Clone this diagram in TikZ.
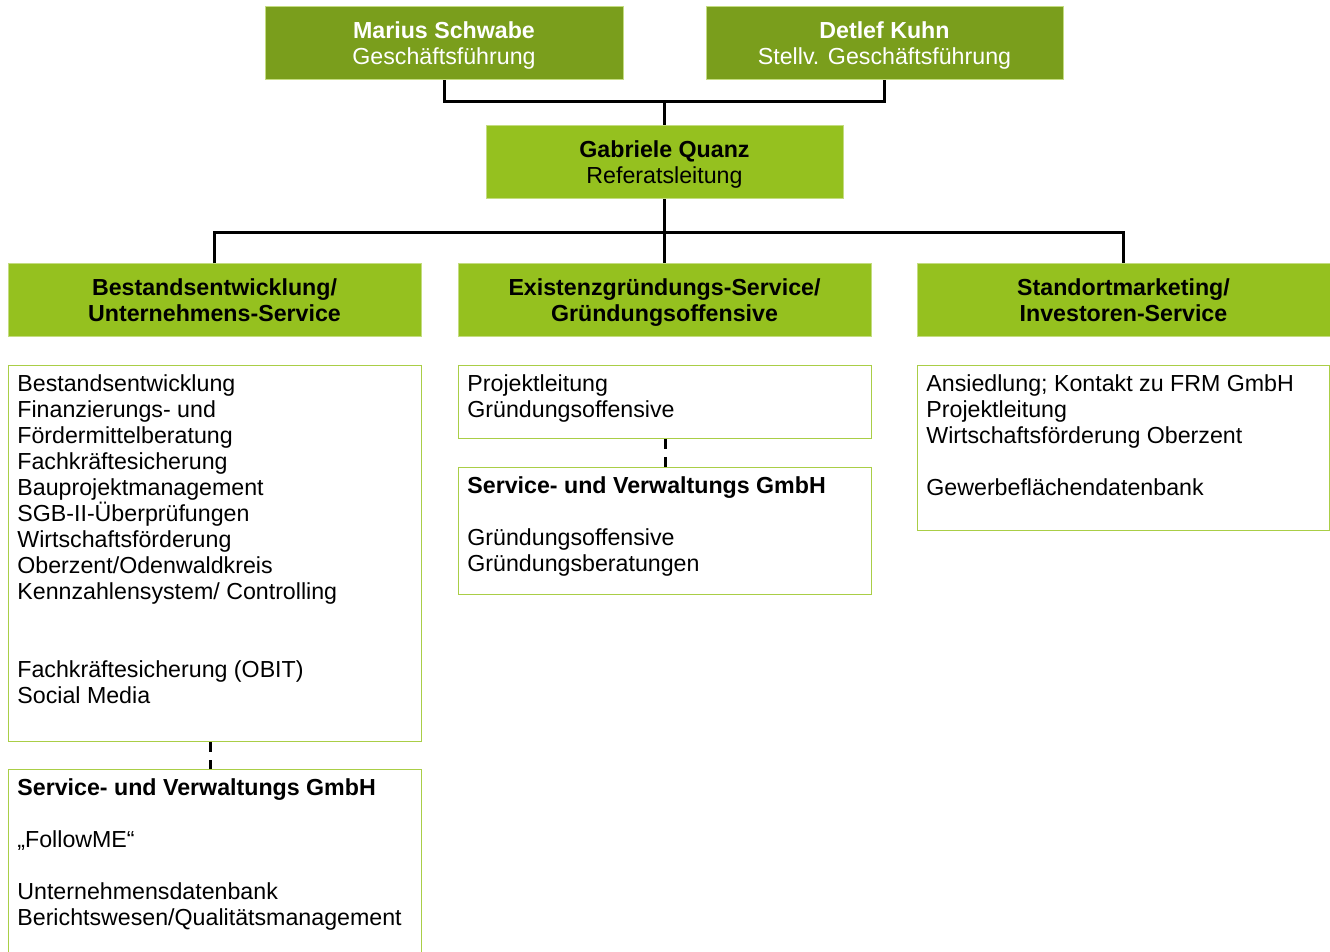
\documentclass[tikz,border=0pt]{standalone}
\usepackage{fontspec}
\setmainfont{Liberation Sans}
\usepackage{tikz}

\definecolor{topgreen}{RGB}{122,158,28}
\definecolor{deptgreen}{RGB}{149,193,31}
\definecolor{edgegreen}{RGB}{196,220,128}
\definecolor{boxline}{RGB}{170,206,70}

\begin{document}
\begin{tikzpicture}[x=0.5pt,y=-0.5pt]
	\tikzstyle{every node}+=[inner sep=0pt, font=\fontsize{11.6}{13}\selectfont]
	\tikzstyle{headbox}=[rectangle, draw=edgegreen, line width=0.5pt, minimum width=179pt, minimum height=36.5pt, align=center, text depth=0pt]
	\tikzstyle{topbox}=[headbox, fill=topgreen, text=white]
	\tikzstyle{leadbox}=[headbox, fill=deptgreen, text=black]
	\tikzstyle{deptbox}=[headbox, fill=deptgreen, minimum width=206.5pt, font=\fontsize{11.6}{13}\selectfont\bfseries]
	\tikzstyle{listbox}=[rectangle, draw=boxline, line width=0.5pt, minimum width=206.5pt, anchor=north west]
	\tikzstyle{listtext}=[anchor=north west, align=left]
	\tikzstyle{link}=[black, line width=1.5pt]
	\tikzstyle{sublink}=[link, dash pattern=on 5pt off 4pt]
	\useasboundingbox (0,0) rectangle (1330,952);
	\clip (0,0) rectangle (1330,952);
	% leitung
	\node [topbox] (marius) at (444,43.5) {\textbf{Marius Schwabe}\\Geschäftsführung};
	\node [topbox, minimum width=178.5pt] (detlef) at (884.5,43.5) {\textbf{Detlef Kuhn}\\Stellv. Geschäftsführung};
	\node [leadbox, minimum width=178.5pt] (gabriele) at (664.5,162.5) {\textbf{Gabriele Quanz}\\Referatsleitung};
	% bereiche
	\node [deptbox] (bestand) at (214.5,300.5) {Bestandsentwicklung/\\Unternehmens-Service};
	\node [deptbox] (existenz) at (664.5,300.5) {Existenzgründungs-Service/\\Gründungsoffensive};
	\node [deptbox] (standort) at (1123.5,300.5) {Standortmarketing/\\Investoren-Service};
	% aufgaben
	\node [listbox, minimum height=188pt] (bestandlist) at (8,365) {};
	\node [listtext] (bestandtext) at ([shift={(4.5pt,-4.6pt)}]bestandlist.north west) {Bestandsentwicklung\\Finanzierungs- und\\Fördermittelberatung\\Fachkräftesicherung\\Bauprojektmanagement\\SGB-II-Überprüfungen\\Wirtschaftsförderung\\Oberzent/Odenwaldkreis\\Kennzahlensystem/ Controlling\\[26pt]Fachkräftesicherung (OBIT)\\Social Media};
	\node [listbox, minimum height=110pt] (bestandgmbh) at (8,769) {};
	\node [listtext] (bestandgmbhtext) at ([shift={(4.5pt,-4.6pt)}]bestandgmbh.north west) {\textbf{Service- und Verwaltungs GmbH}\\[13pt]„FollowME“\\[13pt]Unternehmensdatenbank\\Berichtswesen/Qualitätsmanagement};
	\node [listbox, minimum height=36.5pt] (existenzlist) at (458,365) {};
	\node [listtext] (existenztext) at ([shift={(4.5pt,-4.6pt)}]existenzlist.north west) {Projektleitung\\Gründungsoffensive};
	\node [listbox, minimum height=63.5pt] (existenzgmbh) at (458,467) {};
	\node [listtext] (existenzgmbhtext) at ([shift={(4.5pt,-4.6pt)}]existenzgmbh.north west) {\textbf{Service- und Verwaltungs GmbH}\\[13pt]Gründungsoffensive\\Gründungsberatungen};
	\node [listbox, minimum width=206pt, minimum height=82.5pt] (standortlist) at (917,365) {};
	\node [listtext] (standorttext) at ([shift={(4.5pt,-4.6pt)}]standortlist.north west) {Ansiedlung; Kontakt zu FRM GmbH\\Projektleitung\\Wirtschaftsförderung Oberzent\\[13pt]Gewerbeflächendatenbank};
	% verbindungen
	\coordinate (topjoin) at (664.5,102);
	\coordinate (deptjoin) at (664.5,233);
	\draw [link] (marius.south) |- (topjoin) -| (detlef.south);
	\draw [link] (topjoin) -- (gabriele.north);
	\draw [link] (gabriele.south) -- (deptjoin);
	\draw [link] (bestand.north) |- (deptjoin) -| (standort.north);
	\draw [link] (deptjoin) -- (existenz.north);
	\draw [sublink] ([xshift=-2.25pt]bestandlist.south) -- ([xshift=-2.25pt]bestandgmbh.north);
	\draw [sublink] (existenzlist.south) -- (existenzgmbh.north);
\end{tikzpicture}
\end{document}
